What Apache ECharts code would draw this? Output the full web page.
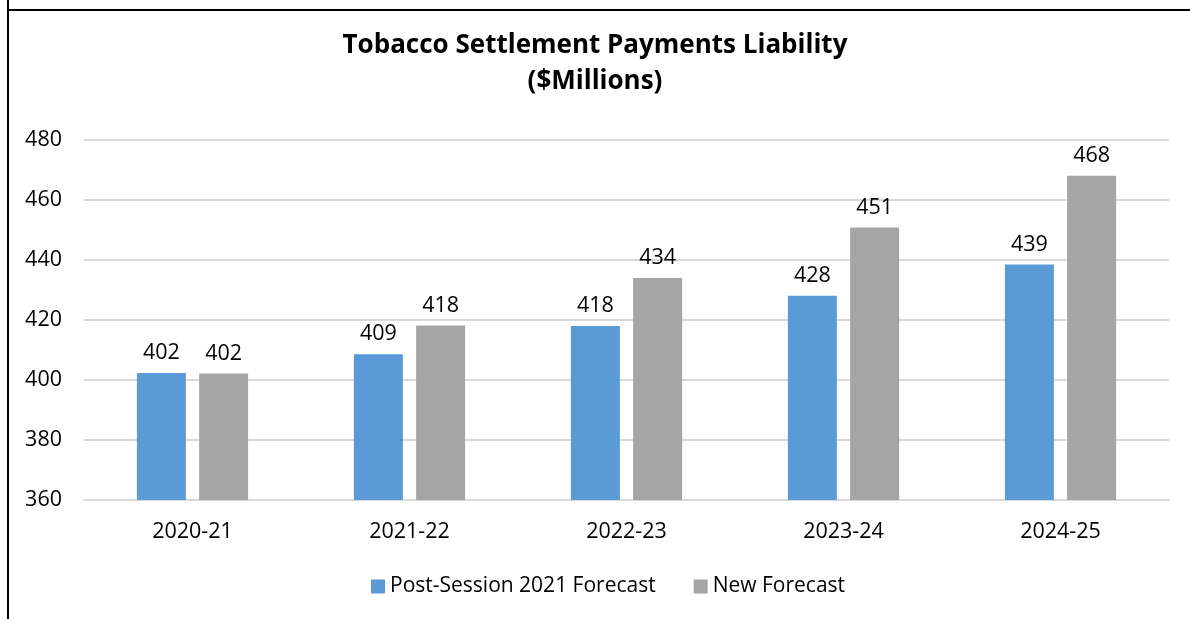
<!DOCTYPE html>
<html><head><meta charset="utf-8">
<script src="https://cdn.jsdelivr.net/npm/echarts@6/dist/echarts.min.js"></script>
<style>html,body{margin:0;padding:0;background:#fff}#c{width:1190px;height:619px}</style>
</head><body><div id="c"></div>
<script>
var categories = ['2020-21','2021-22','2022-23','2023-24','2024-25'];
var postSession = [402.3, 408.6, 418.0, 428.1, 438.5];
var newForecast = [402.2, 418.2, 434.0, 450.8, 468.1];
var seriesNames = ['Post-Session 2021 Forecast','New Forecast'];
var titleText = 'Tobacco Settlement Payments Liability\n($Millions)';

var FONT = 'Open Sans';
var FS = 21.5;
var chart = echarts.init(document.getElementById('c'));
var lbl = {show:true, position:'top', distance:9, color:'#000', fontFamily:FONT, fontSize:FS,
  formatter:function(p){return Math.round(p.value);}};
chart.setOption({
  animation:false,
  title:{text:titleText, left:'center', top:23, textStyle:{fontFamily:FONT, fontWeight:'bold', fontSize:26, lineHeight:36, color:'#000'}},
  graphic:[
    {type:'line', shape:{x1:8,y1:0,x2:8,y2:619}, style:{stroke:'#000', lineWidth:2}},
    {type:'line', shape:{x1:7,y1:10,x2:1190,y2:10}, style:{stroke:'#000', lineWidth:2}}
  ],
  grid:{left:84, right:21, top:140, bottom:119},
  legend:{bottom:17, left:366, itemWidth:14, itemHeight:14, itemGap:38, icon:'rect',
    textStyle:{fontFamily:FONT, fontSize:21, color:'#000'}},
  xAxis:{type:'category', data:categories, axisTick:{show:false},
    axisLine:{lineStyle:{color:'#d9d9d9', width:2}},
    axisLabel:{fontFamily:FONT, fontSize:FS, color:'#000', margin:21}},
  yAxis:{type:'value', min:360, max:480, interval:20,
    splitLine:{lineStyle:{color:'#d9d9d9', width:2}},
    axisLabel:{fontFamily:FONT, fontSize:FS, color:'#000', margin:22}},
  series:[
    {name:seriesNames[0], type:'bar', data:postSession, barWidth:49, barGap:'27%', itemStyle:{color:'#5b9bd5'}, label:lbl},
    {name:seriesNames[1], type:'bar', data:newForecast, barWidth:49, itemStyle:{color:'#a5a5a5'}, label:lbl}
  ]
});
</script></body></html>
